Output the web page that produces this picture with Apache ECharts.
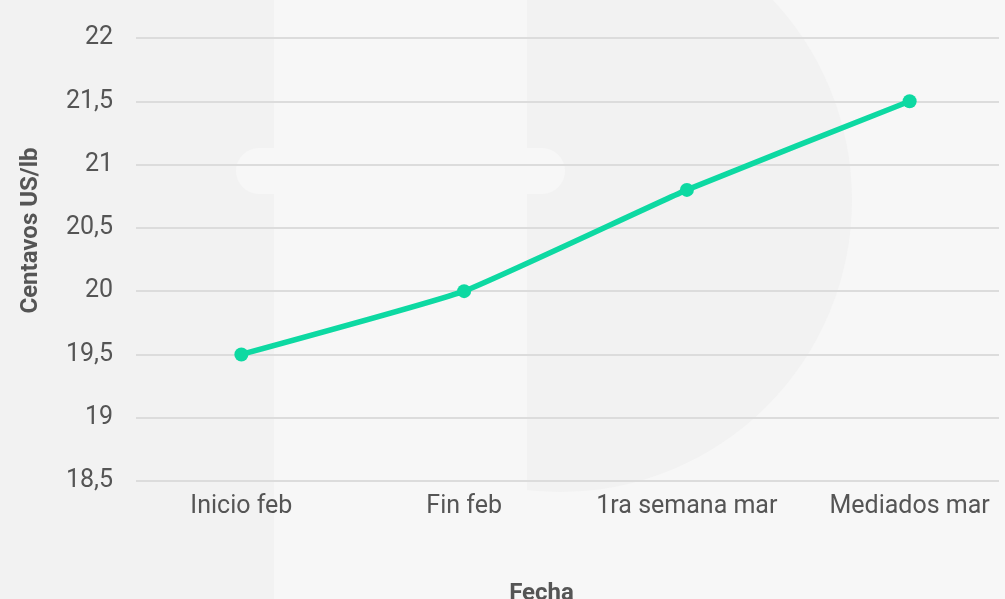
<!DOCTYPE html>
<html>
<head>
<meta charset="utf-8">
<script src="https://cdn.jsdelivr.net/npm/echarts@6/dist/echarts.min.js"></script>
<style>
  html, body { margin: 0; padding: 0; background: #f7f7f7; }
  #chart { width: 1005px; height: 599px; }
</style>
</head>
<body>
<div id="chart"></div>
<script>
const categories = ["Inicio feb", "Fin feb", "1ra semana mar", "Mediados mar"];
const prices = [19.5, 20, 20.8, 21.5];
const yMin = 18.5;
const yMax = 22;
const yStep = 0.5;

const chart = echarts.init(document.getElementById("chart"), null, { renderer: "canvas" });

const fmt = (v) => String(v).replace(".", ",");

chart.setOption({
  backgroundColor: "#f7f7f7",
  animation: false,
  // faint watermark in the background
  graphic: [
    { type: "rect", z: -10, shape: { x: 0, y: 0, width: 274, height: 599 }, style: { fill: "#f2f2f2" } },
    { type: "circle", z: -10, shape: { cx: 560, cy: 200, r: 292 }, style: { fill: "#f2f2f2" } },
    { type: "rect", z: -9, shape: { x: 274, y: 0, width: 253, height: 599 }, style: { fill: "#f7f7f7" } },
    { type: "rect", z: -9, shape: { x: 236, y: 148, width: 329, height: 46, r: 23 }, style: { fill: "#f7f7f7" } },
  ],
  grid: [
    // grid for the horizontal lines and y labels
    { left: 136, width: 863, top: 38, height: 443, outerBoundsMode: "none" },
    // grid for the series (wider, so categories land where they do in the picture)
    { left: 130, width: 891, top: 38, height: 443, outerBoundsMode: "none" },
  ],
  xAxis: [
    {
      gridIndex: 0,
      type: "category",
      data: categories,
      axisLine: { show: false },
      axisTick: { show: false },
      axisLabel: { show: false },
      name: "Fecha",
      nameLocation: "middle",
      nameGap: 101,
      nameTextStyle: {
        fontFamily: "Roboto",
        fontSize: 24,
        fontWeight: "bold",
        color: "#555",
        padding: [0, 52, 0, 0],
      },
    },
    {
      gridIndex: 1,
      type: "category",
      data: categories,
      boundaryGap: true,
      axisLine: { show: false },
      axisTick: { show: false },
      axisLabel: {
        interval: 0,
        margin: 13,
        fontFamily: "Roboto",
        fontSize: 25,
        color: "#555",
      },
    },
  ],
  yAxis: [
    {
      gridIndex: 0,
      type: "value",
      min: yMin,
      max: yMax,
      interval: yStep,
      axisLine: { show: false },
      axisTick: { show: false },
      axisLabel: {
        margin: 23,
        fontFamily: "Roboto",
        fontSize: 25,
        color: "#555",
        formatter: fmt,
      },
      splitLine: { lineStyle: { color: "#dcdcdc", width: 2 } },
      name: "Centavos US/lb",
      nameLocation: "middle",
      nameGap: 93,
      nameTextStyle: {
        fontFamily: "Roboto",
        fontSize: 24,
        fontWeight: "bold",
        color: "#555",
        padding: [0, 0, 0, 58],
      },
    },
    {
      gridIndex: 1,
      type: "value",
      min: yMin,
      max: yMax,
      interval: yStep,
      show: false,
      splitLine: { show: false },
    },
  ],
  series: [
    {
      type: "line",
      xAxisIndex: 1,
      yAxisIndex: 1,
      data: prices,
      smooth: 0.12,
      symbol: "circle",
      symbolSize: 14,
      lineStyle: { color: "#0dd9a2", width: 5.5 },
      itemStyle: { color: "#0dd9a2" },
    },
  ],
});
</script>
</body>
</html>
